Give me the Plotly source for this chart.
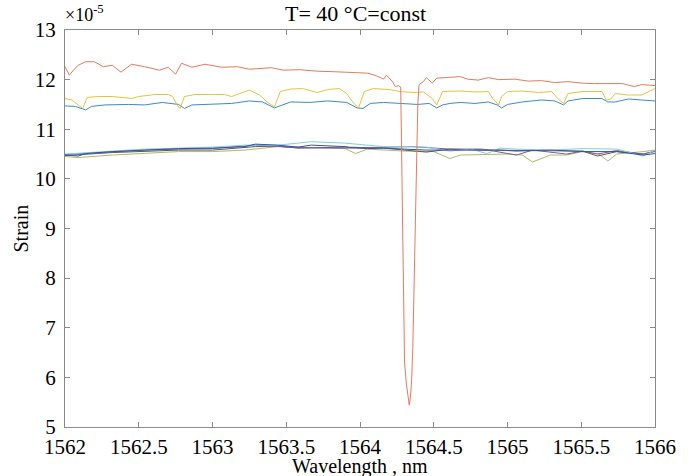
import plotly.graph_objects as go

# ---- data (strain in units of 1e-5) ----
red_wl = [1562.00, 1562.03, 1562.06, 1562.09, 1562.14, 1562.20, 1562.26, 1562.32, 1562.38, 1562.45,
          1562.54, 1562.59, 1562.64, 1562.70, 1562.75, 1562.79, 1562.86, 1562.95, 1563.06, 1563.17,
          1563.25, 1563.40, 1563.48, 1563.59, 1563.71, 1563.82, 1563.93, 1564.05, 1564.11, 1564.16,
          1564.18, 1564.22, 1564.24, 1564.26, 1564.276, 1564.282, 1564.288, 1564.294, 1564.302, 1564.315,
          1564.326, 1564.334, 1564.342, 1564.350, 1564.358, 1564.366, 1564.375, 1564.384, 1564.392, 1564.40,
          1564.43, 1564.45, 1564.49, 1564.52, 1564.61, 1564.68, 1564.73, 1564.80, 1564.87, 1564.94,
          1565.05, 1565.14, 1565.23, 1565.32, 1565.41, 1565.50, 1565.59, 1565.68, 1565.78, 1565.86,
          1565.91, 1566.00]
red_val = [12.26, 12.09, 12.20, 12.29, 12.36, 12.36, 12.26, 12.29, 12.15, 12.31,
           12.26, 12.23, 12.19, 12.25, 12.11, 12.33, 12.25, 12.31, 12.25, 12.26,
           12.21, 12.24, 12.19, 12.20, 12.17, 12.16, 12.15, 12.13, 12.08, 12.01,
           12.09, 11.96, 11.86, 11.88, 11.85, 10.50, 8.50, 7.00, 6.30, 5.85,
           5.55, 5.44, 5.60, 5.95, 6.60, 7.80, 9.40, 10.60, 11.50, 11.90,
           11.96, 12.04, 11.93, 12.03, 12.05, 12.06, 12.01, 11.99, 12.04, 12.00,
           12.01, 11.97, 11.98, 11.94, 11.96, 11.93, 11.92, 11.92, 11.92, 11.86,
           11.90, 11.88]

yellow_wl = [1562.00, 1562.045, 1562.09, 1562.12, 1562.15, 1562.22, 1562.32, 1562.39, 1562.45, 1562.50,
             1562.61, 1562.70, 1562.73, 1562.76, 1562.78, 1562.81, 1562.88, 1563.00, 1563.08, 1563.13,
             1563.17, 1563.25, 1563.32, 1563.37, 1563.42, 1563.46, 1563.53, 1563.61, 1563.71, 1563.78,
             1563.86, 1563.91, 1563.95, 1563.99, 1564.03, 1564.09, 1564.20, 1564.27, 1564.36, 1564.43,
             1564.49, 1564.52, 1564.56, 1564.68, 1564.78, 1564.87, 1564.90, 1564.94, 1564.96, 1565.00,
             1565.10, 1565.21, 1565.30, 1565.34, 1565.38, 1565.41, 1565.51, 1565.64, 1565.67, 1565.70,
             1565.73, 1565.82, 1565.91, 1566.00]
yellow_val = [11.62, 11.59, 11.49, 11.42, 11.64, 11.66, 11.66, 11.64, 11.62, 11.66,
              11.70, 11.70, 11.66, 11.49, 11.42, 11.66, 11.70, 11.70, 11.70, 11.66,
              11.70, 11.79, 11.69, 11.55, 11.45, 11.76, 11.81, 11.82, 11.74, 11.80,
              11.82, 11.72, 11.55, 11.43, 11.76, 11.82, 11.80, 11.76, 11.74, 11.75,
              11.62, 11.49, 11.76, 11.77, 11.75, 11.76, 11.62, 11.49, 11.66, 11.76,
              11.77, 11.74, 11.76, 11.62, 11.52, 11.72, 11.76, 11.76, 11.59, 11.61,
              11.72, 11.69, 11.69, 11.82]

blue_wl = [1562.00, 1562.07, 1562.14, 1562.18, 1562.27, 1562.43, 1562.54, 1562.66, 1562.77, 1562.81,
           1562.86, 1563.00, 1563.13, 1563.25, 1563.34, 1563.42, 1563.47, 1563.53, 1563.66, 1563.78,
           1563.91, 1563.98, 1564.02, 1564.07, 1564.16, 1564.27, 1564.39, 1564.47, 1564.52, 1564.56,
           1564.61, 1564.68, 1564.78, 1564.87, 1564.93, 1564.96, 1565.00, 1565.10, 1565.23, 1565.32,
           1565.38, 1565.41, 1565.51, 1565.64, 1565.68, 1565.73, 1565.82, 1565.91, 1566.00]
blue_val = [11.47, 11.46, 11.39, 11.46, 11.49, 11.50, 11.49, 11.54, 11.50, 11.42,
            11.49, 11.50, 11.52, 11.57, 11.55, 11.43, 11.49, 11.55, 11.54, 11.57,
            11.54, 11.43, 11.42, 11.52, 11.54, 11.52, 11.50, 11.52, 11.43, 11.49,
            11.52, 11.54, 11.52, 11.55, 11.49, 11.43, 11.50, 11.55, 11.59, 11.57,
            11.49, 11.57, 11.62, 11.62, 11.55, 11.55, 11.61, 11.59, 11.57]

navy_wl = [1562.00, 1562.09, 1562.14, 1562.32, 1562.54, 1562.77, 1563.00, 1563.22, 1563.29, 1563.44,
           1563.58, 1563.67, 1563.90, 1563.93, 1564.05, 1564.16, 1564.30, 1564.45, 1564.61, 1564.83,
           1564.95, 1565.06, 1565.29, 1565.51, 1565.74, 1565.92, 1566.00]
navy_val = [10.48, 10.46, 10.51, 10.55, 10.58, 10.61, 10.62, 10.65, 10.70, 10.68,
            10.64, 10.68, 10.65, 10.63, 10.61, 10.62, 10.60, 10.58, 10.58, 10.58,
            10.58, 10.56, 10.58, 10.55, 10.55, 10.48, 10.51]

cyan_wl = [1562.00, 1562.14, 1562.32, 1562.54, 1562.77, 1563.00, 1563.22, 1563.44, 1563.58, 1563.67,
           1563.90, 1564.05, 1564.16, 1564.30, 1564.45, 1564.61, 1564.75, 1564.86, 1564.95, 1565.06,
           1565.29, 1565.51, 1565.74, 1565.92, 1566.00]
cyan_val = [10.50, 10.52, 10.56, 10.60, 10.62, 10.64, 10.68, 10.68, 10.72, 10.75,
            10.72, 10.68, 10.65, 10.65, 10.64, 10.56, 10.60, 10.51, 10.62, 10.60,
            10.58, 10.61, 10.60, 10.46, 10.58]

purple_wl = [1562.00, 1562.32, 1562.54, 1562.77, 1563.00, 1563.29, 1563.44, 1563.58, 1563.90, 1564.16,
             1564.35, 1564.61, 1564.83, 1565.06, 1565.17, 1565.40, 1565.51, 1565.61, 1565.74, 1565.92,
             1566.00]
purple_val = [10.49, 10.55, 10.58, 10.60, 10.61, 10.68, 10.66, 10.63, 10.62, 10.63,
              10.65, 10.60, 10.60, 10.48, 10.58, 10.50, 10.56, 10.50, 10.57, 10.50,
              10.55]

gray_wl = [1562.00, 1562.32, 1562.77, 1563.00, 1563.29, 1563.44, 1563.58, 1563.90, 1564.16, 1564.45,
           1564.61, 1564.83, 1565.17, 1565.51, 1565.61, 1565.74, 1565.92, 1566.00]
gray_val = [10.47, 10.53, 10.58, 10.58, 10.65, 10.66, 10.62, 10.64, 10.62, 10.54,
            10.60, 10.58, 10.57, 10.56, 10.46, 10.55, 10.50, 10.56]

green_wl = [1562.00, 1562.09, 1562.32, 1562.54, 1562.77, 1563.00, 1563.22, 1563.44, 1563.90, 1563.97,
            1564.05, 1564.30, 1564.50, 1564.61, 1564.68, 1564.83, 1565.00, 1565.10, 1565.17, 1565.29,
            1565.40, 1565.51, 1565.62, 1565.68, 1565.74, 1565.92, 1566.00]
green_val = [10.45, 10.43, 10.48, 10.51, 10.55, 10.55, 10.58, 10.65, 10.61, 10.51,
             10.60, 10.56, 10.55, 10.41, 10.48, 10.49, 10.50, 10.48, 10.34, 10.48,
             10.48, 10.55, 10.50, 10.36, 10.50, 10.55, 10.58]

x_ticks = [1562, 1562.5, 1563, 1563.5, 1564, 1564.5, 1565, 1565.5, 1566]
x_tick_labels = ["1562", "1562.5", "1563", "1563.5", "1564", "1564.5", "1565", "1565.5", "1566"]
y_ticks = [5, 6, 7, 8, 9, 10, 11, 12, 13]

series = [
    (green_wl, green_val, "#a9bd62"),
    (gray_wl, gray_val, "#5a5a5a"),
    (purple_wl, purple_val, "#7d5c9e"),
    (cyan_wl, cyan_val, "#7fcfe6"),
    (navy_wl, navy_val, "#3c4f9c"),
    (blue_wl, blue_val, "#3b8cc9"),
    (yellow_wl, yellow_val, "#e5c43c"),
    (red_wl, red_val, "#e07b5f"),
]

fig = go.Figure()
for wl, val, col in series:
    fig.add_trace(go.Scatter(x=wl, y=val, mode="lines",
                             line=dict(color=col, width=1), showlegend=False))

FONT = "Liberation Serif, Times New Roman, serif"
axis_common = dict(showline=True, linecolor="#8a8a8a", linewidth=1, mirror="allticks",
                   ticks="inside", ticklen=5, tickcolor="#8a8a8a", showgrid=False,
                   zeroline=False, automargin=False,
                   tickfont=dict(family=FONT, size=21, color="black"))

fig.update_layout(
    width=688, height=476,
    margin=dict(l=65, r=33, t=30, b=49, autoexpand=False),
    paper_bgcolor="white", plot_bgcolor="white",
    font=dict(family=FONT, color="black"),
    xaxis=dict(range=[1562, 1566], tickvals=x_ticks, ticktext=x_tick_labels,
               ticklabelstandoff=1, **axis_common),
    yaxis=dict(range=[5, 13], tickvals=y_ticks, ticklabelstandoff=4, **axis_common),
)

# title
fig.add_annotation(text="T= 40 °C=const", xref="paper", yref="paper", x=0.5, y=1,
                   xanchor="center", yanchor="middle", xshift=-5, yshift=17, showarrow=False,
                   font=dict(family=FONT, size=22, color="black"))
# exponent
fig.add_annotation(text="×10<sup>-5</sup>", xref="paper", yref="paper", x=0, y=1,
                   xanchor="left", yanchor="bottom", xshift=-2, yshift=3, showarrow=False,
                   font=dict(family=FONT, size=18, color="black"))
# x title
fig.add_annotation(text="Wavelength , nm", xref="paper", yref="paper", x=0.5, y=0,
                   xanchor="center", yanchor="middle", yshift=-39, showarrow=False,
                   font=dict(family=FONT, size=20, color="black"))
# y title
fig.add_annotation(text="Strain", xref="paper", yref="paper", x=0, y=0.5,
                   xanchor="center", yanchor="middle", xshift=-45, textangle=-90,
                   showarrow=False, font=dict(family=FONT, size=20, color="black"))

fig.write_html("out.html", config={"displayModeBar": False},
               post_script="document.body.style.margin='0';document.body.style.overflow='hidden';")
